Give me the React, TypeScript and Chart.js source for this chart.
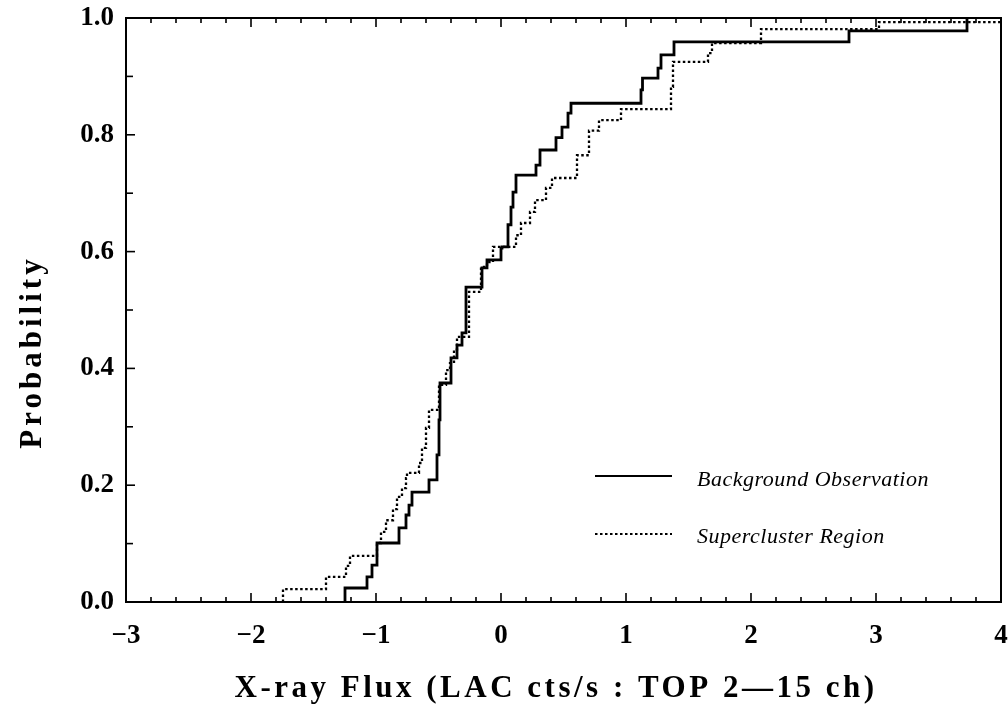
import React, { useEffect, useRef } from "react";
import { Chart, registerables } from "chart.js";

Chart.register(...registerables);

// Background Observation (solid) – empirical cumulative distribution steps
const backgroundX = [
  -1.248, -1.072, -1.032, -0.992, -0.816, -0.76, -0.736, -0.712, -0.576, -0.512,
  -0.496, -0.488, -0.4, -0.352, -0.312, -0.28, -0.152, -0.112, 0.0, 0.008,
  0.056, 0.08, 0.096, 0.12, 0.28, 0.312, 0.44, 0.488, 0.536, 0.56,
  1.12, 1.132, 1.256, 1.28, 1.384, 2.784, 3.728,
];
const backgroundY = [
  0.024, 0.043, 0.063, 0.101, 0.127, 0.149, 0.166, 0.188, 0.209, 0.252,
  0.312, 0.375, 0.418, 0.44, 0.461, 0.539, 0.572, 0.586, 0.606, 0.608,
  0.646, 0.676, 0.702, 0.731, 0.748, 0.774, 0.795, 0.813, 0.837, 0.854,
  0.877, 0.897, 0.914, 0.937, 0.959, 0.978, 1.0,
];

// Supercluster Region (dotted)
const superX = [
  -1.744, -1.4, -1.24, -1.208, -0.992, -0.96, -0.92, -0.864, -0.832, -0.792,
  -0.76, -0.752, -0.656, -0.632, -0.6, -0.576, -0.496, -0.44, -0.408, -0.376,
  -0.352, -0.256, -0.16, -0.112, -0.064, 0.12, 0.16, 0.232, 0.272, 0.36,
  0.408, 0.608, 0.704, 0.784, 0.96, 1.36, 1.376, 1.656, 1.688, 2.08,
  3.024, 4.0,
];
const superY = [
  0.022, 0.043, 0.062, 0.079, 0.101, 0.12, 0.14, 0.159, 0.18, 0.195,
  0.212, 0.221, 0.238, 0.264, 0.298, 0.329, 0.372, 0.397, 0.409, 0.432,
  0.454, 0.531, 0.574, 0.582, 0.608, 0.628, 0.649, 0.668, 0.688, 0.709,
  0.726, 0.765, 0.807, 0.825, 0.844, 0.882, 0.925, 0.94, 0.957, 0.981,
  0.993, 0.993,
];

const xTickValues = [-3, -2, -1, 0, 1, 2, 3, 4];
const xTickLabels = ["\u22123", "\u22122", "\u22121", "0", "1", "2", "3", "4"];
const yTickValues = [0, 0.2, 0.4, 0.6, 0.8, 1.0];
const yTickLabels = ["0.0", "0.2", "0.4", "0.6", "0.8", "1.0"];

const seriesNames = ["Background Observation", "Supercluster Region"];
const xTitle = "X-ray Flux (LAC cts/s : TOP 2\u201415 ch)";
const yTitle = "Probability";

function toPoints(xs: number[], ys: number[]) {
  const pts = [{ x: xs[0], y: 0 }];
  xs.forEach((x, i) => pts.push({ x, y: ys[i] }));
  return pts;
}

const SERIF = '"Liberation Serif", "DejaVu Serif", serif';

const decorPlugin = {
  id: "decor",
  afterDraw(chart: any) {
    const ctx: CanvasRenderingContext2D = chart.ctx;
    const xs = chart.scales.x;
    const ys = chart.scales.y;
    const { left, right, top, bottom } = chart.chartArea;
    ctx.save();
    ctx.strokeStyle = "#000";
    ctx.fillStyle = "#000";

    // frame
    ctx.lineWidth = 2;
    ctx.strokeRect(left, top, right - left, bottom - top);

    // x ticks (bottom and top, inward)
    ctx.lineWidth = 1.6;
    for (let k = 0; k <= 35; k++) {
      const v = -3 + k * 0.2;
      const px = xs.getPixelForValue(v);
      const major = k % 5 === 0;
      const len = major ? 9 : 5;
      ctx.beginPath();
      ctx.moveTo(px, bottom);
      ctx.lineTo(px, bottom - len);
      ctx.moveTo(px, top);
      ctx.lineTo(px, top + len);
      ctx.stroke();
    }
    // y ticks (left, inward)
    for (let k = 0; k <= 10; k++) {
      const v = k * 0.1;
      const py = ys.getPixelForValue(v);
      const len = k % 2 === 0 ? 9 : 7;
      ctx.beginPath();
      ctx.moveTo(left, py);
      ctx.lineTo(left + len, py);
      ctx.stroke();
    }

    // tick labels
    ctx.font = `bold 27px ${SERIF}`;
    ctx.textBaseline = "middle";
    ctx.textAlign = "right";
    yTickValues.forEach((v, i) => {
      ctx.fillText(yTickLabels[i], left - 12, ys.getPixelForValue(v));
    });
    ctx.textAlign = "center";
    ctx.textBaseline = "top";
    xTickValues.forEach((v, i) => {
      ctx.fillText(xTickLabels[i], xs.getPixelForValue(v), bottom + 21);
    });

    // axis titles
    ctx.font = `bold 31px ${SERIF}`;
    (ctx as any).letterSpacing = "3.5px";
    ctx.textAlign = "center";
    ctx.textBaseline = "middle";
    ctx.fillText(xTitle, 556, 689);
    ctx.save();
    ctx.translate(33, 352);
    ctx.rotate(-Math.PI / 2);
    (ctx as any).letterSpacing = "4px";
    ctx.fillText(yTitle, 0, 0);
    ctx.restore();
    (ctx as any).letterSpacing = "0px";

    // legend
    ctx.lineWidth = 2;
    ctx.setLineDash([]);
    ctx.beginPath();
    ctx.moveTo(595, 476);
    ctx.lineTo(672, 476);
    ctx.stroke();
    ctx.lineWidth = 2.2;
    ctx.setLineDash([2.5, 2.5]);
    ctx.beginPath();
    ctx.moveTo(595, 534);
    ctx.lineTo(672, 534);
    ctx.stroke();
    ctx.setLineDash([]);
    ctx.font = `italic 22px ${SERIF}`;
    (ctx as any).letterSpacing = "0.5px";
    ctx.textAlign = "left";
    ctx.textBaseline = "middle";
    ctx.fillText(seriesNames[0], 697, 480);
    ctx.fillText(seriesNames[1], 697, 537);
    ctx.restore();
  },
};

export default function App() {
  const ref = useRef<HTMLCanvasElement>(null);
  useEffect(() => {
    document.body.style.margin = "0";
    const chart = new Chart(ref.current as HTMLCanvasElement, {
      type: "line",
      data: {
        datasets: [
          {
            label: seriesNames[0],
            data: toPoints(backgroundX, backgroundY),
            borderColor: "#000",
            borderWidth: 2.8,
            stepped: "before",
            pointRadius: 0,
            fill: false,
          },
          {
            label: seriesNames[1],
            data: toPoints(superX, superY),
            borderColor: "#000",
            borderWidth: 2.3,
            borderDash: [2.5, 2.5],
            stepped: "before",
            pointRadius: 0,
            fill: false,
          },
        ],
      },
      options: {
        animation: false,
        responsive: false,
        maintainAspectRatio: false,
        parsing: true,
        layout: { padding: { left: 126, right: 7, top: 18, bottom: 105 } },
        plugins: { legend: { display: false }, tooltip: { enabled: false } },
        scales: {
          x: { type: "linear", min: -3, max: 4, display: false },
          y: { type: "linear", min: 0, max: 1, display: false },
        },
      },
      plugins: [decorPlugin],
    });
    return () => chart.destroy();
  }, []);
  return (
    <div style={{ position: "fixed", left: 0, top: 0, width: 1008, height: 707, background: "#fff" }}>
      <canvas ref={ref} width={1008} height={707} />
    </div>
  );
}
